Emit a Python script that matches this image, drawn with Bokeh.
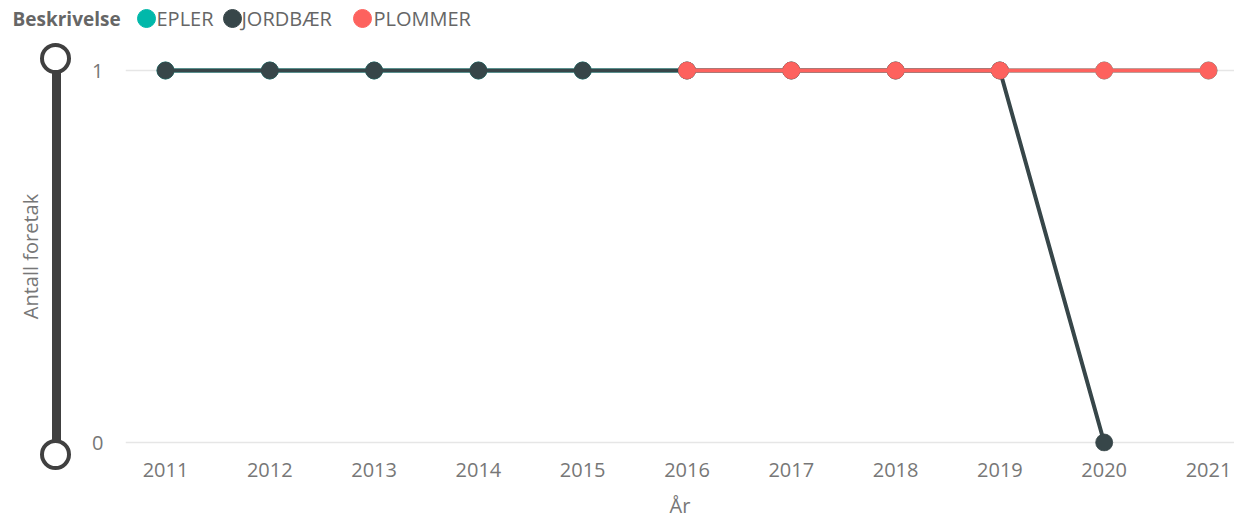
import numpy as np
from bokeh.plotting import figure
from bokeh.models import Range1d, FixedTicker
from bokeh.layouts import column, row
from bokeh.embed import file_html
from bokeh.resources import INLINE
from bokeh.core.properties import value

# ---------------- data ----------------
years = [2011, 2012, 2013, 2014, 2015, 2016, 2017, 2018, 2019, 2020, 2021]
series_names = ["EPLER", "JORDBÆR", "PLOMMER"]
series_colors = ["#01B8AA", "#374649", "#FD625E"]

epler_years = [2011, 2012, 2013, 2014, 2015, 2016, 2017, 2018, 2019, 2020, 2021]
epler_vals = [1, 1, 1, 1, 1, 1, 1, 1, 1, 1, 1]
jordbaer_years = [2011, 2012, 2013, 2014, 2015, 2016, 2017, 2018, 2019, 2020]
jordbaer_vals = [1, 1, 1, 1, 1, 1, 1, 1, 1, 0]
plommer_years = [2016, 2017, 2018, 2019, 2020, 2021]
plommer_vals = [1, 1, 1, 1, 1, 1]

y_ticks = [0, 1]
legend_title = "Beskrivelse"
x_title = "År"
y_title = "Antall foretak"

# ---------------- layout / style ----------------
FONT = "Open Sans"
GREY = "#777777"
TOTAL_W = 1234
LEG_H = 38
ROW_H = 483
SL_W = 85
MAIN_W = TOTAL_W - SL_W
TOP, BOTTOM, LEFT = 20, 70, 40
PPU = 372.0            # pixels per unit of y
FRAME_TOP_PX = LEG_H + TOP
FRAME_BOT_PX = LEG_H + ROW_H - BOTTOM
ONE_PX = 70            # page y of value 1
Y1 = 1 + (ONE_PX - FRAME_TOP_PX) / PPU
Y0 = 1 - (FRAME_BOT_PX - ONE_PX) / PPU
X0, X1 = 2010.6165, 2021.2493
# slider handles
HANDLE_TOP = 1 + 12 / PPU
HANDLE_BOT = -12 / PPU

# legend figure
leg = figure(width=TOTAL_W, height=LEG_H, x_range=Range1d(0, TOTAL_W), y_range=Range1d(0, LEG_H),
             min_border=0, x_axis_type=None, y_axis_type=None, output_backend="svg",
             toolbar_location=None)
leg.frame_align = False
leg.grid.visible = False
leg.outline_line_color = None
leg.text(x=[12], y=[20], text=[legend_title], text_font=value(FONT), text_font_size="19px",
         text_font_style="bold", text_color="#666666", text_baseline="middle")
marker_x = [146, 232, 362]
label_x = [156, 241, 373]
leg.scatter(x=marker_x, y=[20] * 3, size=18, fill_color=series_colors, line_color=series_colors)
leg.text(x=label_x, y=[20] * 3, text=series_names, text_font=value(FONT), text_font_size="20px",
         text_color="#666666", text_baseline="middle")

# slider figure (left)
sl = figure(width=SL_W, height=ROW_H, x_range=Range1d(0, SL_W),
            y_range=Range1d(1 - (LEG_H + ROW_H - ONE_PX) / PPU, 1 + (ONE_PX - LEG_H) / PPU),
            min_border=0, x_axis_type=None, y_axis_type=None, output_backend="svg",
            toolbar_location=None)
sl.frame_align = False
sl.grid.visible = False
sl.outline_line_color = None
sl.segment(x0=[56], y0=[HANDLE_BOT], x1=[56], y1=[HANDLE_TOP], line_width=9, line_color="#404040")
sl.scatter(x=[55, 55], y=[HANDLE_BOT, HANDLE_TOP], size=27, fill_color="white",
           line_color="#404040", line_width=4)
sl.text(x=[30], y=[0.5], text=[y_title], angle=np.pi / 2, text_font=value(FONT),
        text_font_size="20px", text_color=GREY, text_align="center", text_baseline="middle")

# main figure
p = figure(width=MAIN_W, height=ROW_H, x_range=Range1d(X0, X1), y_range=Range1d(Y0, Y1),
           min_border_left=LEFT, min_border_right=0, min_border_top=TOP, min_border_bottom=BOTTOM,
           output_backend="svg", toolbar_location=None)
p.frame_align = False
p.outline_line_color = None
p.xgrid.visible = False
p.ygrid.ticker = FixedTicker(ticks=y_ticks)
p.ygrid.grid_line_color = "#E6E6E6"
p.ygrid.grid_line_width = 1.5

for ax in (p.xaxis[0], p.yaxis[0]):
    ax.axis_line_color = None
    ax.major_tick_line_color = None
    ax.minor_tick_line_color = None
    ax.major_label_text_font = FONT
    ax.major_label_text_font_size = "20px"
    ax.major_label_text_color = GREY
    ax.axis_label_text_font = FONT
    ax.axis_label_text_font_size = "20px"
    ax.axis_label_text_font_style = "normal"
    ax.axis_label_text_color = GREY

p.xaxis.ticker = FixedTicker(ticks=years)
p.xaxis.major_label_standoff = 5
p.xaxis.axis_label = x_title
p.xaxis.axis_label_standoff = 12
p.yaxis.ticker = FixedTicker(ticks=y_ticks)
p.yaxis.major_label_standoff = 16

data = [(epler_years, epler_vals), (jordbaer_years, jordbaer_vals), (plommer_years, plommer_vals)]
for (xs, ys), name, col in zip(data, series_names, series_colors):
    p.line(xs, ys, line_width=4, line_color=col)
    p.scatter(xs, ys, size=17, fill_color=col, line_color=col, line_width=0.8)

layout = column(leg, row(sl, p, spacing=0), spacing=0)
open("out.html", "w").write(file_html(layout, INLINE))
